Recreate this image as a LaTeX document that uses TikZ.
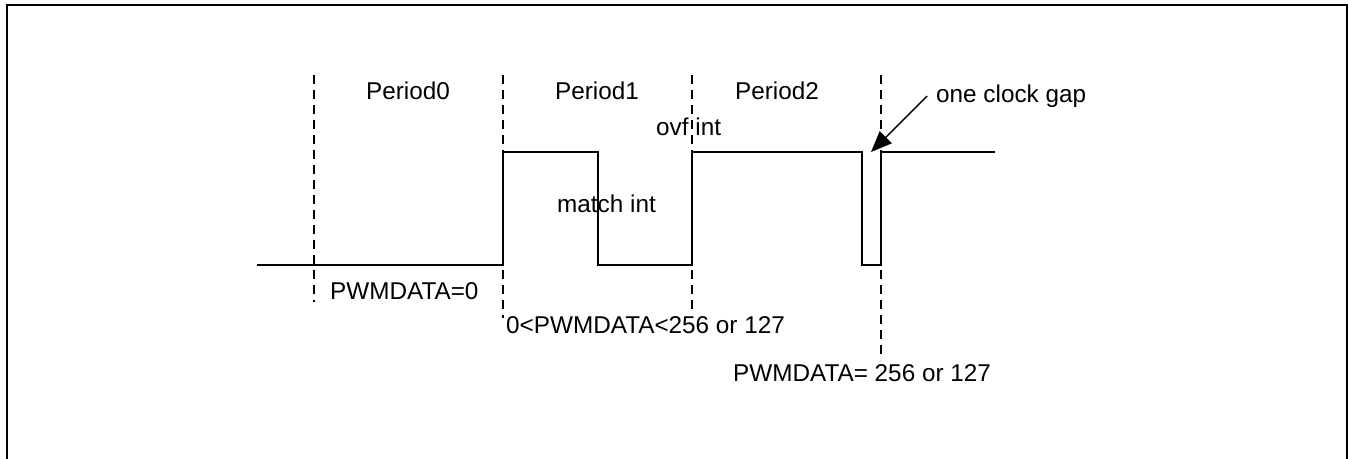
\documentclass[tikz,border=0pt]{standalone}
\usepackage{fontspec}
\setmainfont{Liberation Sans}
\usetikzlibrary{arrows.meta}
\begin{document}
\begin{tikzpicture}[x=1pt,y=-1pt,
  lbl/.style={inner sep=0pt,font=\fontsize{24.3}{28}\selectfont},
  sig/.style={line width=1.4pt,line join=miter},
  guide/.style={line width=1.5pt,dash pattern=on 9pt off 6pt},
  frame/.style={line width=2pt}]
\useasboundingbox (0,0) rectangle (1348,458);
\begin{scope}
\clip (0,0) rectangle (1348,458);
\draw[frame] (6.5,5) -- (1347,5) -- (1347,480) -- (6.5,480) -- cycle;
\end{scope}
% guides
\coordinate (g0t) at (314,75); \coordinate (g0b) at (314,302);
\coordinate (g1t) at (503,75); \coordinate (g1b) at (503,318);
\coordinate (g2t) at (692,75); \coordinate (g2b) at (692,314);
\coordinate (g3t) at (881,75); \coordinate (g3b) at (881,360);
\draw[guide] (g0t) -- (g0b);
\draw[guide] (g1t) -- (g1b);
\draw[guide] (g2t) -- (g2b);
\draw[guide] (g3t) -- (g3b);
% signal
\coordinate (s0) at (257,265);
\coordinate (s1) at (503,265);
\coordinate (s2) at (503,152);
\coordinate (s3) at (598,152);
\coordinate (s4) at (598,265);
\coordinate (s5) at (692,265);
\coordinate (s6) at (692,152);
\coordinate (s7) at (862,152);
\coordinate (s8) at (862,265);
\coordinate (s9) at (881,265);
\coordinate (s10) at (881,152);
\coordinate (s11) at (995,152);
\draw[sig] (s0) -- (s1) -- (s2) -- (s3) -- (s4) -- (s5) -- (s6) -- (s7) -- (s8) -- (s9) -- (s10) -- (s11);
% labels
\node[lbl] (p0) at (408,91) {Period0};
\node[lbl] (p1) at (597,91) {Period1};
\node[lbl] (p2) at (777,91) {Period2};
\node[lbl,anchor=west] (gap) at (936,96) {one clock gap};
\node[lbl,anchor=west] (ovf) at (656,127) {ovf int};
\node[lbl,anchor=west] (match) at (557,204) {match int};
\node[lbl,anchor=west] (pd0) at (330,291) {PWMDATA=0};
\node[lbl,anchor=west] (pd1) at (506,325) {0<PWMDATA<256 or 127};
\node[lbl,anchor=west] (pd2) at (733,373) {PWMDATA= 256 or 127};
% arrow
\coordinate (atail) at (927,96);
\coordinate (atip) at (871,152);
\draw[line width=1.4pt,-{Triangle[length=21pt,width=17pt]}] (atail) -- (atip);
\end{tikzpicture}
\end{document}
